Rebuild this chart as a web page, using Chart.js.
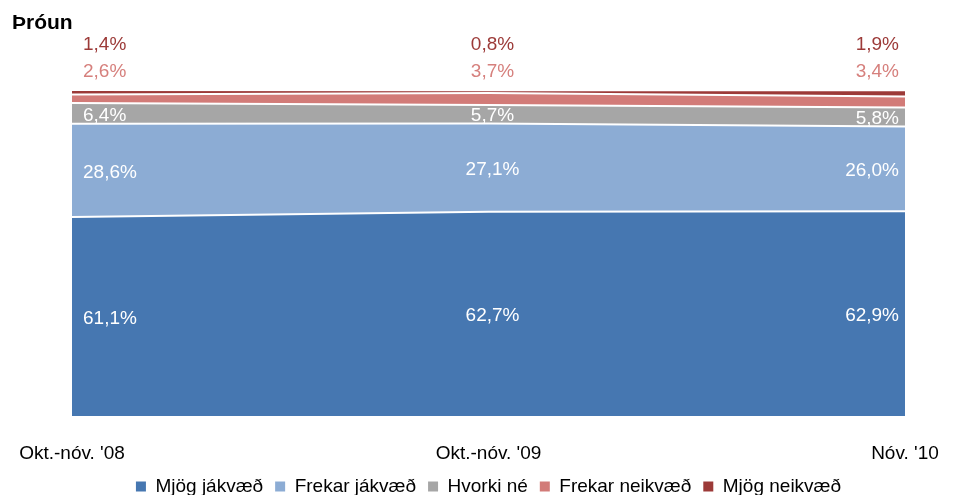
<!DOCTYPE html>
<html>
<head>
<meta charset="utf-8">
<script src="https://cdn.jsdelivr.net/npm/chart.js@4/dist/chart.umd.min.js"></script>
<style>
  body { margin: 0; background: #fff; }
  #wrap { position: relative; width: 954px; height: 497px; }
  #title { position: absolute; left: 12px; top: 10px; font: bold 21px "Liberation Sans", Arial, sans-serif; color: #000; }
</style>
</head>
<body>
<div id="wrap">
  <canvas id="canvas" width="954" height="497"></canvas>
  <div id="title">Þróun</div>
</div>
<script>
var categories = ["Okt.-nóv. '08", "Okt.-nóv. '09", "Nóv. '10"];
var seriesNames = ["Mjög jákvæð", "Frekar jákvæð", "Hvorki né", "Frekar neikvæð", "Mjög neikvæð"];
var mjogJakvaed = [61.1, 62.7, 62.9];
var frekarJakvaed = [28.6, 27.1, 26.0];
var hvorkiNe = [6.4, 5.7, 5.8];
var frekarNeikvaed = [2.6, 3.7, 3.4];
var mjogNeikvaed = [1.4, 0.8, 1.9];

var colors = ['#4677b1', '#8cacd4', '#a6a6a6', '#d27b78', '#9c3a38'];
var labelColors = ['#ffffff', '#ffffff', '#ffffff', '#d6807d', '#9c3a38'];
var values = [mjogJakvaed, frekarJakvaed, hvorkiNe, frekarNeikvaed, mjogNeikvaed];

function fmt(v) {
	return v.toFixed(1).replace('.', ',') + '%';
}

// make the legend box shorter so the plot reaches further down
var legendHeight = {
	id: 'legendHeight',
	afterInit: function(chart) {
		var lg = chart.legend;
		var origFit = lg.fit;
		lg.fit = function() {
			origFit.call(this);
			this.height = 30;
		};
	}
};

// value labels drawn on / above the areas
var valueLabels = {
	id: 'valueLabels',
	afterDatasetsDraw: function(chart) {
		var ctx = chart.ctx;
		var area = chart.chartArea;
		ctx.save();
		ctx.font = '19px "Liberation Sans", Arial, sans-serif';
		ctx.textBaseline = 'middle';
		chart.data.datasets.forEach(function(ds, i) {
			var meta = chart.getDatasetMeta(i);
			meta.data.forEach(function(pt, j) {
				var y;
				if (i <= 2) {
					var bottom = i == 0 ? chart.scales.y.getPixelForValue(0) : chart.getDatasetMeta(i - 1).data[j].y;
					y = (pt.y + bottom) / 2 + 2;
				} else if (i == 3) {
					y = area.top - 18;
				} else {
					y = area.top - 45;
				}
				var x = pt.x;
				if (j == 0) {
					ctx.textAlign = 'left';
					x = area.left + 11;
				} else if (j == meta.data.length - 1) {
					ctx.textAlign = 'right';
					x = area.right - 6;
				} else {
					ctx.textAlign = 'center';
					x = x + 4;
				}
				ctx.fillStyle = labelColors[i];
				ctx.fillText(fmt(ds.data[j]), x, y);
			});
		});
		ctx.restore();
	}
};

var datasets = values.map(function(v, i) {
	return {
		label: seriesNames[i],
		data: v,
		backgroundColor: colors[i],
		borderColor: '#ffffff',
		borderWidth: 2,
		pointRadius: 0,
		tension: 0,
		fill: i == 0 ? 'origin' : '-1'
	};
});

var ctx = document.getElementById("canvas");
window.myCharts = new Chart(ctx, {
	type: 'line',
	data: {
		labels: categories,
		datasets: datasets
	},
	options: {
		responsive: false,
		animation: false,
		layout: { padding: { left: 72, right: 49, top: 90, bottom: 2 } },
		scales: {
			x: {
				offset: false,
				grid: { display: false, drawTicks: false },
				border: { display: false },
				afterFit: function(s) {
					s.paddingLeft = 0;
					s.paddingRight = 0;
					s.height = 49;
				},
				ticks: {
					padding: 26,
					maxRotation: 0,
					color: '#000',
					font: { family: '"Liberation Sans", Arial, sans-serif', size: 19 }
				}
			},
			y: {
				stacked: true,
				min: 0,
				max: 100.1,
				display: false
			}
		},
		plugins: {
			legend: {
				position: 'bottom',
				labels: {
					boxWidth: 10,
					boxHeight: 10,
					padding: 12,
					color: '#000',
					font: { family: '"Liberation Sans", Arial, sans-serif', size: 19 },
					generateLabels: function(chart) {
						return chart.data.datasets.map(function(ds, i) {
							return { text: ds.label, fillStyle: colors[i], strokeStyle: colors[i], lineWidth: 0, datasetIndex: i };
						});
					}
				}
			},
			tooltip: { enabled: false }
		}
	},
	plugins: [legendHeight, valueLabels]
});
</script>
</body>
</html>
